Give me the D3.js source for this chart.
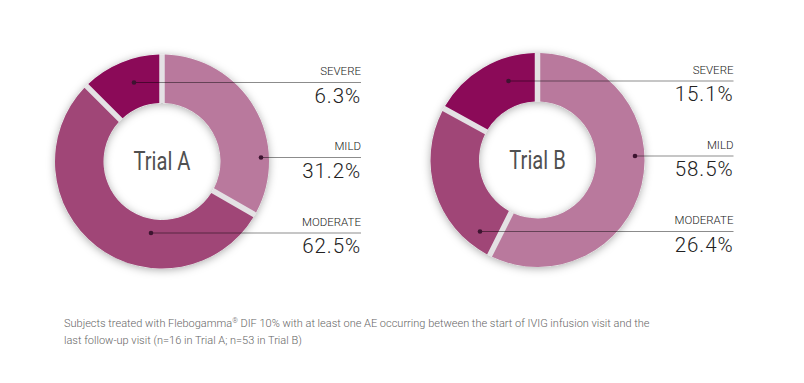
<!DOCTYPE html>
<html><head><meta charset="utf-8">
<script src="https://cdn.jsdelivr.net/npm/d3@7"></script>
<style>html,body{margin:0;padding:0;background:#fff;} svg{display:block;}</style>
</head><body><svg id="chart" width="804" height="383"></svg>
<script>
// ---- data ----
const categories = ["MILD", "MODERATE", "SEVERE"];          // clockwise from 12 o'clock
const trials = ["Trial A", "Trial B"];
const trialAShares = [33.3, 54.2, 12.5];                      // slice sizes as drawn
const trialBShares = [57.4, 25.6, 17.0];
const trialALabels = [31.2, 62.5, 6.3];                       // printed percentages
const trialBLabels = [58.5, 26.4, 15.1];
const footnoteLine1a = "Subjects treated with Flebogamma";
const footnoteSup = "®";
const footnoteLine1b = " DIF 10% with at least one AE occurring between the start of IVIG infusion visit and the";
const footnoteLine2 = "last follow-up visit (n=16 in Trial A; n=53 in Trial B)";

// ---- layout / style ----
const colors = {MILD: "#b9799d", MODERATE: "#a04677", SEVERE: "#8b0a58"};
const gapColor = "#e4e1e4";
const rOuter = 107, rInner = 58.5;
const layout = [
  {cx: 162, cy: 161.5, lineEnd: 361, dot: {SEVERE: -28, MILD: 99, MODERATE: -11}},
  {cx: 537.5, cy: 160, lineEnd: 733.5, dot: {SEVERE: -29, MILD: 97.5, MODERATE: -57.5}}
];
const lineOffset = {SEVERE: -79, MILD: -4, MODERATE: 71.5};

const svg = d3.select("#chart");
svg.append("rect").attr("width", 804).attr("height", 383).attr("fill", "#fff");

const defs = svg.append("defs");
const f = defs.append("filter").attr("id", "shadow")
  .attr("x", "-30%").attr("y", "-30%").attr("width", "160%").attr("height", "160%");
f.append("feDropShadow").attr("dx", 0).attr("dy", 1.5).attr("stdDeviation", 4.5)
  .attr("flood-color", "#000").attr("flood-opacity", 0.33);

const pie = d3.pie().sort(null).value(d => d.share);
const arc = d3.arc().innerRadius(rInner).outerRadius(rOuter)
  .padAngle(5.5 / rOuter).padRadius(rOuter);
const ringArc = d3.arc().innerRadius(rInner).outerRadius(rOuter).startAngle(0).endAngle(2 * Math.PI);

const datasets = [
  categories.map((c, i) => ({cat: c, share: trialAShares[i], label: trialALabels[i]})),
  categories.map((c, i) => ({cat: c, share: trialBShares[i], label: trialBLabels[i]}))
];

datasets.forEach((data, ti) => {
  const L = layout[ti];
  const g = svg.append("g").attr("transform", `translate(${L.cx},${L.cy})`);
  g.append("path").attr("d", ringArc()).attr("fill", gapColor).attr("filter", "url(#shadow)");
  g.selectAll("path.slice").data(pie(data)).join("path")
    .attr("class", "slice")
    .attr("d", arc)
    .attr("fill", d => colors[d.data.cat]);

  // title
  g.append("text")
    .attr("transform", "translate(0,8.5) scale(0.79,1)")
    .attr("text-anchor", "middle")
    .attr("font-family", "Roboto, sans-serif")
    .attr("font-size", 25.5)
    .attr("fill", "#505050")
    .text(trials[ti]);

  // leader lines and labels
  data.forEach(d => {
    const y = lineOffset[d.cat];
    const x0 = L.dot[d.cat];
    const x1 = L.lineEnd - L.cx;
    g.append("line").attr("x1", x0).attr("x2", x1).attr("y1", y).attr("y2", y)
      .attr("stroke", "#000").attr("stroke-opacity", 0.45).attr("stroke-width", 1);
    g.append("circle").attr("cx", x0).attr("cy", y).attr("r", 2.3).attr("fill", "#3d1430");
    g.append("text").attr("x", x1).attr("y", y - 7.5)
      .attr("text-anchor", "end")
      .attr("font-family", "Roboto, sans-serif")
      .attr("font-weight", 300)
      .attr("font-size", 11.5)
      .attr("fill", "#222")
      .text(d.cat);
    g.append("text").attr("x", x1).attr("y", y + 20)
      .attr("text-anchor", "end")
      .attr("font-family", "Roboto, sans-serif")
      .attr("font-weight", 300)
      .attr("font-size", 20.5)
      .attr("letter-spacing", 0.9)
      .attr("fill", "#222")
      .text(d3.format(".1f")(d.label) + "%");
  });
});

// footnote
const fn = svg.append("text")
  .attr("x", 64).attr("y", 327)
  .attr("font-family", "Roboto, sans-serif")
  .attr("font-weight", 300)
  .attr("font-size", 11)
  .attr("fill", "#666");
fn.append("tspan").text(footnoteLine1a);
fn.append("tspan").attr("font-size", 7).attr("dy", -4).text(footnoteSup);
fn.append("tspan").attr("dy", 4).text(footnoteLine1b);
svg.append("text")
  .attr("x", 64).attr("y", 344)
  .attr("font-family", "Roboto, sans-serif")
  .attr("font-weight", 300)
  .attr("font-size", 11)
  .attr("fill", "#666")
  .text(footnoteLine2);
</script>
</body></html>
